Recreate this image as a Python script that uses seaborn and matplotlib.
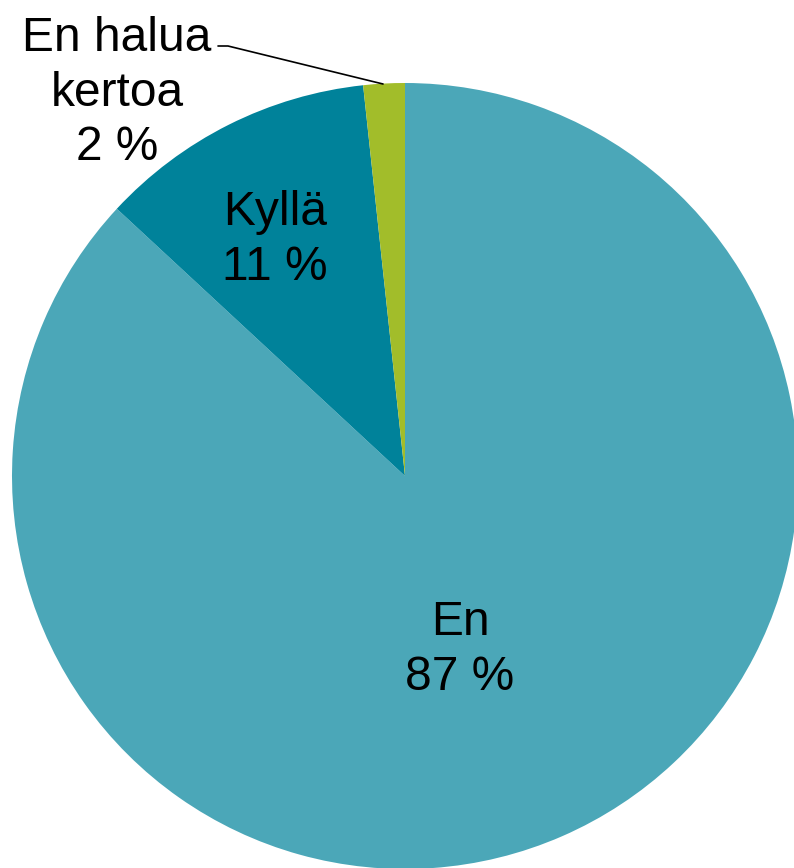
import matplotlib.pyplot as plt
import seaborn as sns

# Data
labels = ["En", "Kyllä", "En halua\nkertoa"]
values = [86.9, 11.4, 1.7]
colors = ["#4BA7B8", "#00829A", "#A2BD2A"]

W, H = 794, 868

sns.set_theme(style="white")
plt.rcParams['font.family'] = ['Liberation Sans', 'DejaVu Sans']

fig = plt.figure(figsize=(W / 100, H / 100), dpi=100)
ax = fig.add_axes([0, 0, 1, 1])

cx, cy, r = 405, H - 476, 393
ax.pie(values, colors=colors, startangle=90, counterclock=False,
       center=(cx, cy), radius=r, frame=True,
       wedgeprops=dict(linewidth=0))
ax.set_xlim(0, W)
ax.set_ylim(0, H)
ax.set_aspect('equal')
ax.axis('off')

pct = [f"{v:.0f} %" for v in values]
# label positions in pixel coords (from top)
pos = [(460, 650), (275, 240), (117, 93)]
for lab, p, (x, y) in zip(labels, pct, pos):
    ax.text(x, H - y, f"{lab}\n{p}", ha='center', va='center',
            fontsize=34.5, color='black', linespacing=1.26)

# leader line for the small slice
ax.plot([218, 228, 383], [H - 46, H - 46, H - 84], color='black', lw=1.2)

fig.savefig("out.png", dpi=100)
